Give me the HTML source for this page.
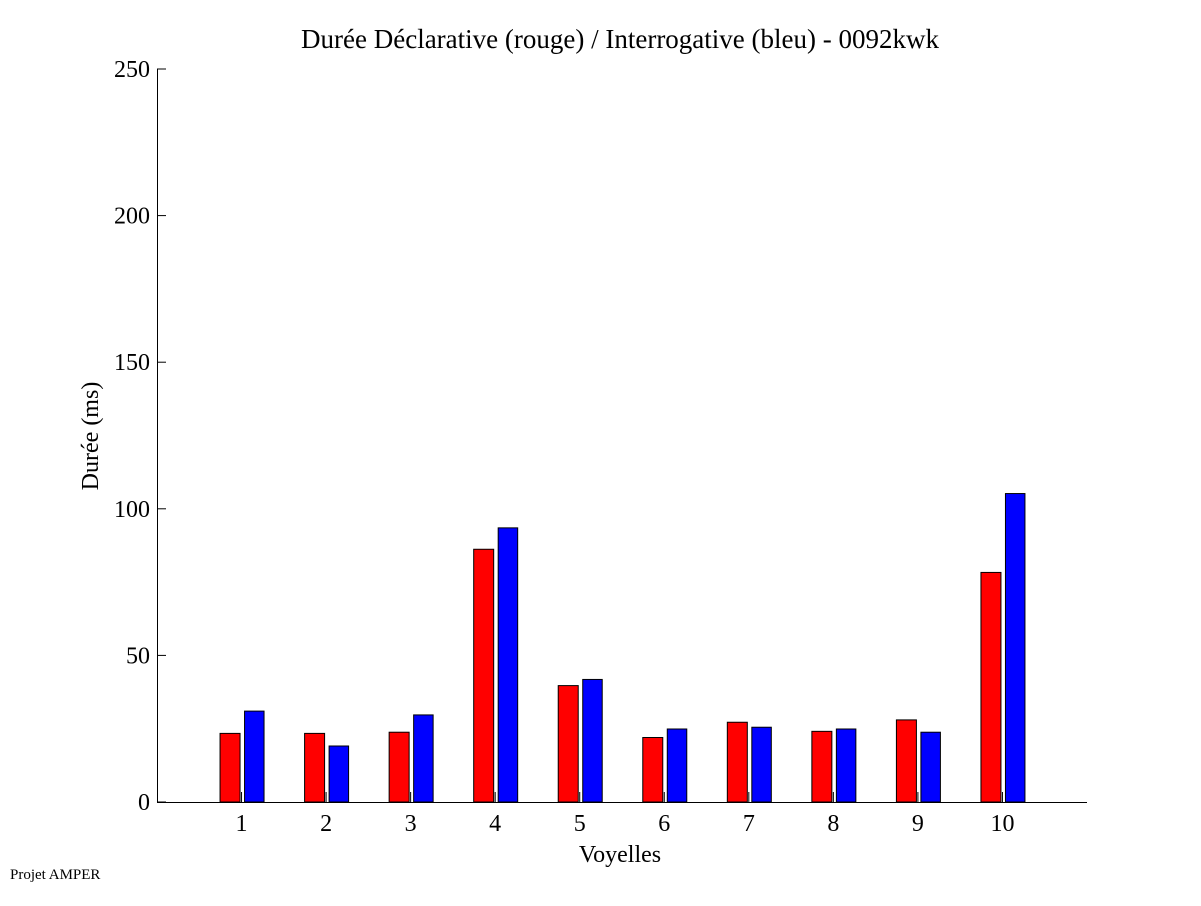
<!DOCTYPE html>
<html><head><meta charset="utf-8"><style>
body{margin:0;background:#fff;}
svg text{font-family:"Liberation Serif",serif;fill:#000;}
</style></head><body>
<svg id="chart" width="1201" height="901" xmlns="http://www.w3.org/2000/svg">
<rect width="1201" height="901" fill="#fff"/>
<text x="620" y="48" font-size="27" text-anchor="middle">Durée Déclarative (rouge) / Interrogative (bleu) - 0092kwk</text>
<text x="620" y="862" font-size="24" text-anchor="middle">Voyelles</text>
<text transform="translate(98,436) rotate(-90)" font-size="24" text-anchor="middle">Durée (ms)</text>
<text x="10" y="879" font-size="15">Projet AMPER</text>
<g id="marks"></g>
<g id="axes"></g>
</svg>
<script>
const categories = ["1","2","3","4","5","6","7","8","9","10"];
const redValues = [23.4, 23.4, 23.8, 86.2, 39.7, 22.0, 27.2, 24.1, 28.0, 78.3];
const blueValues = [31.0, 19.1, 29.7, 93.5, 41.8, 24.9, 25.5, 24.9, 23.8, 105.2];
const yTicks = [0, 50, 100, 150, 200, 250];

const NS = "http://www.w3.org/2000/svg";
const X0 = 157, X1 = 1087, Y0 = 802, Y1 = 69;
const yMax = 250;
function xScale(i){ return X0 + (i + 1) * (X1 - X0) / (categories.length + 1); }
function yScale(v){ return Y0 - v * (Y0 - Y1) / yMax; }
function mk(tag, attrs, parent){
  const e = document.createElementNS(NS, tag);
  for (const k in attrs) e.setAttribute(k, attrs[k]);
  parent.appendChild(e);
  return e;
}
const marks = document.getElementById("marks");
const axes = document.getElementById("axes");
categories.forEach((c, i) => {
  const cx = xScale(i);
  const r = mk("rect", {x: cx - 21.5, y: yScale(redValues[i]), width: 20, height: Y0 - yScale(redValues[i]), fill: "#ff0000", stroke: "#000", "stroke-width": 1}, marks);
  
  
  const b = mk("rect", {x: cx + 3, y: yScale(blueValues[i]), width: 19.5, height: Y0 - yScale(blueValues[i]), fill: "#0000ff", stroke: "#000", "stroke-width": 1}, marks);
  
  
  const t = mk("line", {x1: cx, x2: cx, y1: Y0, y2: Y0 - 10, stroke: "#000", "stroke-width": 1}, axes);
  
  
  const l = mk("text", {x: cx, y: Y0 + 29, "font-size": 24, "text-anchor": "middle"}, axes);
  l.textContent = c;
  
  
});
yTicks.forEach(v => {
  const y = yScale(v);
  const t = mk("line", {x1: X0, x2: X0 + 9, y1: y, y2: y, stroke: "#000", "stroke-width": 1}, axes);
  
  
  const l = mk("text", {x: X0 - 7, y: y + 8, "font-size": 24, "text-anchor": "end"}, axes);
  l.textContent = v;
  
  
});
const xa = mk("line", {x1: X0, x2: X1, y1: Y0 + 0.5, y2: Y0 + 0.5, stroke: "#000", "stroke-width": 1}, axes);


const ya = mk("line", {x1: X0 + 0.5, x2: X0 + 0.5, y1: Y1, y2: Y0, stroke: "#000", "stroke-width": 1}, axes);


</script>
</body></html>
